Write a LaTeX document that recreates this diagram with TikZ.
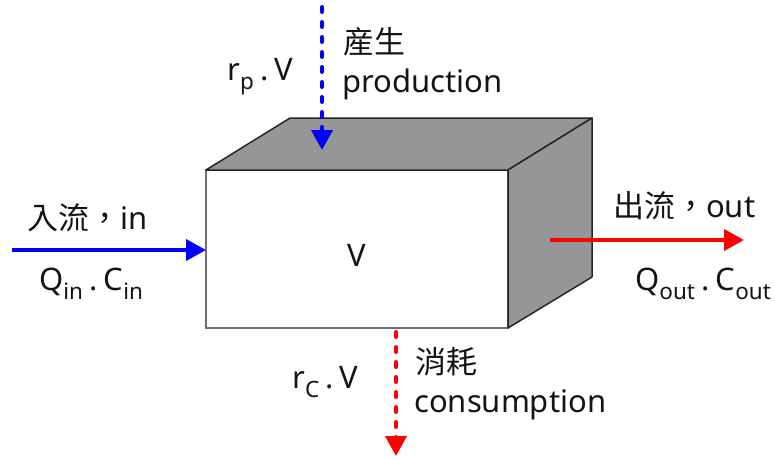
\documentclass[tikz,border=0pt]{standalone}
\usepackage{fontspec}
\setmainfont{Noto Sans}
\newfontfamily\cjk{Noto Sans CJK TC}
\usetikzlibrary{arrows.meta}
\definecolor{facegray}{RGB}{150,150,150}
\definecolor{edgegray}{RGB}{110,110,110}
\definecolor{flowblue}{RGB}{0,0,255}
\definecolor{flowred}{RGB}{255,0,0}
\definecolor{txtgray}{RGB}{20,20,20}
\newcommand\lsub[1]{\raisebox{-0.3em}{\fontsize{22.5}{22}\selectfont #1}}
\newcommand\mdot{\hspace{0.2em}.\hspace{0.2em}}
\begin{document}
\begin{tikzpicture}[x=1pt,y=-1pt,
  lbl/.style={inner sep=0pt, anchor=base west, text=txtgray, font=\fontsize{31}{38}\selectfont},
  flow/.style={line width=4pt, -{Triangle[length=20pt,width=21pt]}},
  dotflow/.style={flow, dash pattern=on 5pt off 10pt, line cap=round},
  face/.style={fill=facegray, draw=black!85, line width=1.5pt, line join=round}]
\useasboundingbox (0,0) rectangle (775,459);
% box corners
\coordinate (FTL) at (206,170);
\coordinate (FTR) at (508,170);
\coordinate (FBR) at (508,328);
\coordinate (FBL) at (206,328);
\coordinate (BTL) at (290,118);
\coordinate (BTR) at (592,118);
\coordinate (BBR) at (592,277);
\draw[draw=edgegray, line width=2pt, fill=white] (FTL) rectangle (FBR);
\draw[face] (FTL) -- (BTL) -- (BTR) -- (FTR) -- cycle;
\draw[face] (FTR) -- (BTR) -- (BBR) -- (FBR) -- cycle;
\node[lbl, anchor=center] (vol) at (357,255) {V};
% flows
\coordinate (inS) at (12,250);
\coordinate (inE) at (206,250);
\coordinate (pS) at (322,7);
\coordinate (pE) at (322,150);
\coordinate (oS) at (550,240);
\coordinate (oE) at (744,240);
\coordinate (cS) at (396,332);
\coordinate (cE) at (396,456);
\draw[flow, flowblue] (inS) -- (inE);
\draw[dotflow, flowblue] (pS) -- (pE);
\draw[flow, flowred] (oS) -- (oE);
\draw[dotflow, flowred] (cS) -- (cE);
% labels
\node[lbl] (prodzh) at (343,53) {\cjk 産生};
\node[lbl] (prod) at (342,92) {production};
\node[lbl] (rp) at (227,80) {r\lsub{p}\mdot V};
\node[lbl] (inzh) at (27,229) {{\cjk 入流，}in};
\node[lbl] (qin) at (39,290) {Q\lsub{in}\mdot C\lsub{in}};
\node[lbl] (outzh) at (613,217) {{\cjk 出流，}out};
\node[lbl] (qout) at (635,290) {Q\lsub{out}\mdot C\lsub{out}};
\node[lbl] (conszh) at (415,373) {\cjk 消耗};
\node[lbl] (cons) at (414,412) {consumption};
\node[lbl] (rc) at (292,388) {r\lsub{C}\mdot V};
\end{tikzpicture}
\end{document}
